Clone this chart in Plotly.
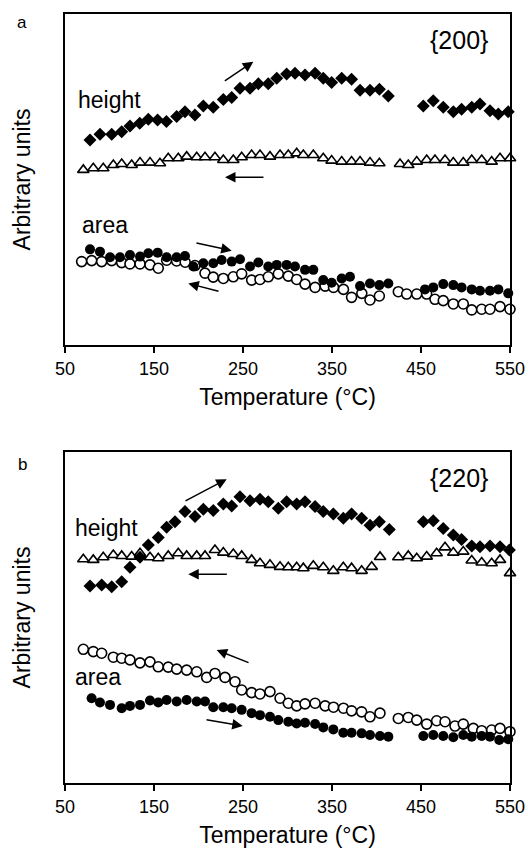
import plotly.graph_objects as go

# ---------- Panel a {200} ----------
a_h_heat_T = [78.1, 89.3, 102.5, 113.7, 123, 134, 143.6, 154, 164, 175.5, 184.8, 196, 205.4, 216.6, 227.9, 237.3,
              246.6, 257.9, 267.2, 278.4, 287.9, 299, 308.4, 319.7, 331, 340.2, 349.6, 360.9, 372, 381.5, 392.7,
              403.2, 413.3, 452.6, 463.8, 475, 486.3, 495.6, 507, 516.3, 527.5, 536.9, 548]
a_h_heat_v = [61.9, 63.7, 63.7, 64.4, 66.2, 67.0, 68.2, 68.0, 67.5, 69.0, 70.5, 69.5, 72.2, 71.8, 74.2, 74.8,
              77.6, 77.6, 78.9, 78.9, 80.6, 81.9, 82.1, 81.6, 82.1, 80.6, 79.3, 80.6, 80.3, 77.0, 77.0,
              77.3, 75.2, 72.2, 73.8, 71.8, 70.5, 71.2, 71.8, 72.8, 70.8, 69.8, 70.5]

a_h_cool_T = [70.6, 81.8, 93, 104.3, 113.7, 124.9, 134.3, 145.5, 156.7, 166, 177.3, 186.7, 198, 207.3, 218.5, 227.9,
              239.1, 248.5, 259.7, 269.1, 280.3, 291.6, 300.9, 310.3, 317.8, 329, 340.2, 349.6, 360.9, 372, 381.5,
              392.7, 403.2, 426.4, 435.7, 445.2, 456.4, 465.7, 477, 486.3, 497.5, 507, 518.2, 529.4, 538.8, 550]
a_h_cool_v = [52.9, 53.4, 53.4, 54.4, 54.7, 54.4, 55.1, 55.1, 54.9, 56.4, 56.4, 56.9, 56.7, 56.7, 56.7, 55.9,
              55.9, 56.7, 57.4, 57.4, 56.9, 57.4, 57.4, 57.9, 57.4, 57.4, 56.4, 55.7, 55.4, 55.4, 55.4,
              55.1, 54.9, 54.7, 54.4, 55.4, 55.9, 55.9, 55.9, 55.1, 55.1, 55.9, 55.9, 55.4, 56.4, 56.4]

a_a_heat_T = [78.1, 89.3, 100.6, 111.8, 123, 134.3, 143.6, 154.1, 164.2, 175.4, 184.8, 194.2, 205.4, 216.6, 226,
              237.3, 246.6, 257.9, 267.2, 278.4, 287.9, 299, 308.4, 319.7, 329, 340.2, 349.6, 360.9, 370.2, 381.5,
              392.7, 403.2, 413.3, 454.5, 463.8, 475, 486.3, 495.6, 507, 516.3, 527.5, 536.9, 548]
a_a_heat_v = [28.9, 28.2, 26.5, 26.5, 27.2, 26.7, 27.7, 27.9, 26.5, 26.5, 26.9, 23.7, 24.7, 24.7, 25.7,
              25.2, 25.9, 23.7, 24.9, 23.7, 24.2, 24.2, 23.7, 22.7, 22.7, 19.6, 18.8, 20.1, 20.6, 17.8,
              18.6, 18.1, 18.6, 16.8, 17.4, 18.4, 18.1, 17.4, 16.8, 16.4, 16.4, 16.8, 15.6]

a_a_cool_T = [68.7, 80, 91.2, 102.5, 113.7, 123, 134.3, 145.5, 154.8, 164.2, 175.4, 185, 196, 207.3, 216.6, 227.9,
              239.1, 248.5, 259.7, 269.1, 278.4, 289.7, 300.9, 310.3, 319.7, 331, 342.3, 351.7, 362.9, 372, 383.5,
              392.7, 403.2, 424.5, 433.9, 445.2, 456.4, 465.7, 475, 486.3, 497.5, 507, 518.2, 527.5, 538.8, 550]
a_a_cool_v = [25.2, 25.5, 25.2, 25.5, 24.9, 24.5, 24.5, 24.2, 23.2, 25.6, 25.4, 25.0, 24.0, 21.7, 20.5, 20.1,
              20.6, 21.5, 19.6, 19.8, 20.6, 21.5, 20.8, 19.8, 18.4, 17.4, 17.8, 17.4, 16.8, 14.4, 15.6,
              13.6, 14.8, 16.1, 15.4, 15.4, 15.4, 13.8, 13.4, 12.4, 12.4, 10.6, 10.8, 10.8, 11.6, 10.8]

# ---------- Panel b {220} ----------
b_h_heat_T = [78.1, 91.2, 102.5, 113.7, 123, 134.3, 143.6, 154.8, 164.2, 173.6, 184.8, 196.1, 205.4, 216.6, 227.9,
              237.3, 246.6, 257.9, 269.1, 278.4, 289.7, 299, 310.3, 319.7, 331, 340.2, 351.5, 362.7, 372, 383.3,
              392.7, 403.2, 414.4, 452.6, 463.8, 475, 486.3, 495.6, 507, 516.3, 527.5, 538.8, 549.3]
b_h_heat_v = [59.5, 59.8, 59.3, 60.8, 65.2, 68.2, 71.9, 74.2, 77.3, 78.9, 82.0, 80.5, 82.7, 82.3, 84.3,
              83.7, 86.5, 85.3, 85.7, 85.0, 83.0, 85.0, 84.3, 85.0, 83.5, 82.0, 81.3, 80.0, 81.3, 80.0,
              77.9, 78.9, 76.6, 78.9, 79.2, 76.9, 74.9, 73.6, 71.6, 71.4, 71.6, 71.4, 70.4]

b_h_cool_T = [70.6, 81.8, 93, 104.3, 113.7, 124.9, 134.3, 145.5, 154.8, 166, 177.3, 186.7, 198, 207.3, 218.5, 227.9,
              239.1, 248.5, 259.7, 269.1, 280.3, 291.6, 300.9, 310.3, 317.8, 329, 340.2, 351.5, 362.7, 372, 383.3,
              394.6, 404, 424.5, 435.7, 445.2, 456.4, 467.6, 477, 486.3, 497.5, 507, 518.2, 529.4, 538.8, 550]
b_h_cool_v = [67.6, 67.4, 68.2, 68.9, 68.6, 68.4, 69.4, 68.2, 67.9, 68.6, 69.4, 68.6, 68.6, 68.6, 70.4, 69.6,
              69.2, 68.6, 67.4, 66.4, 65.9, 65.3, 65.2, 65.2, 64.9, 65.6, 65.2, 64.1, 65.2, 64.9, 64.1,
              65.3, 68.3, 68.2, 68.6, 67.9, 68.4, 69.4, 71.2, 69.6, 69.9, 67.2, 66.6, 66.4, 67.4, 63.4]

b_a_heat_T = [79.9, 89.3, 100.6, 113.7, 123, 134.3, 145.5, 154.8, 164.2, 175.5, 186.7, 198, 207.3, 216.6, 227.9,
              237.3, 248.5, 259.7, 269.1, 280.3, 289.7, 300.9, 310.3, 319.7, 331, 340.2, 351.5, 362.7, 372, 383.3,
              392.7, 403.9, 413.3, 452.6, 463.8, 475, 486.3, 497.5, 507, 518.2, 527.5, 537.9, 548]
b_a_heat_v = [25.6, 24.3, 23.6, 22.6, 23.3, 23.6, 24.9, 24.3, 25.1, 24.6, 25.1, 24.6, 24.6, 22.9, 22.9,
              22.6, 22.1, 21.1, 20.5, 20.0, 19.0, 18.5, 18.0, 18.2, 17.8, 16.8, 16.2, 15.2, 15.2, 15.0,
              14.5, 14.2, 14.0, 14.2, 14.5, 14.2, 13.8, 14.5, 14.0, 14.2, 14.0, 13.0, 13.2]

b_a_cool_T = [70.6, 81.8, 91.2, 104.3, 113.7, 123, 134.3, 145.5, 154.8, 166, 175.5, 186.7, 198, 209.2, 218.5, 229.8,
              241, 248.5, 259.7, 269.1, 280.3, 291.6, 300.9, 310.3, 319.7, 331, 342.3, 351.7, 362.9, 372, 383.3,
              392.7, 403.9, 424.5, 435.7, 445.2, 456.4, 467.6, 477, 488.2, 497.5, 508.8, 518.2, 529.4, 538.8, 550]
b_a_cool_v = [40.4, 39.7, 39.2, 38.0, 37.7, 37.2, 36.3, 36.6, 35.1, 35.0, 34.4, 34.1, 33.6, 31.9, 33.1, 31.9,
              30.6, 28.1, 27.3, 26.9, 27.6, 25.6, 24.1, 23.3, 23.9, 24.1, 23.3, 22.9, 22.6, 21.8, 21.5,
              20.0, 21.1, 19.5, 19.8, 19.0, 17.8, 18.8, 18.5, 17.2, 17.8, 16.5, 15.8, 16.0, 16.5, 15.5]

x_ticks = [50, 150, 250, 350, 450, 550]

FONT = "Liberation Sans, Arial, sans-serif"
fig = go.Figure()


def add_series(T, v, symbol, filled, size, xa, ya):
    fig.add_trace(go.Scatter(
        x=T, y=v, mode="markers", xaxis=xa, yaxis=ya, showlegend=False, cliponaxis=False,
        hoverinfo="skip",
        marker=dict(symbol=symbol, size=size,
                    color="black" if filled else "white",
                    line=dict(color="black", width=0 if filled else 1.6))))


# panel a
add_series(a_h_cool_T, a_h_cool_v, "triangle-up", False, 10, "x", "y")
add_series(a_h_heat_T, a_h_heat_v, "diamond", True, 10, "x", "y")
add_series(a_a_cool_T, a_a_cool_v, "circle", False, 10, "x", "y")
add_series(a_a_heat_T, a_a_heat_v, "circle", True, 10, "x", "y")
# panel b
add_series(b_h_cool_T, b_h_cool_v, "triangle-up", False, 10, "x2", "y2")
add_series(b_h_heat_T, b_h_heat_v, "diamond", True, 10, "x2", "y2")
add_series(b_a_cool_T, b_a_cool_v, "circle", False, 10, "x2", "y2")
add_series(b_a_heat_T, b_a_heat_v, "circle", True, 10, "x2", "y2")

# arrows: (x_tail, y_tail, x_head, y_head, axis suffix)
arrows = [
    (227.9, 79.5, 261.6, 85.6, ""),
    (274.7, 50.7, 229.8, 50.7, ""),
    (196.0, 30.9, 237.3, 28.5, ""),
    (224.2, 16.1, 188.5, 18.6, ""),
    (183.7, 85.0, 231.7, 91.8, "2"),
    (233.5, 63.1, 188.5, 63.1, "2"),
    (257.9, 36.2, 220.4, 40.2, "2"),
    (207.3, 19.2, 249.7, 17.2, "2"),
]
annotations = []
for xt, yt, xh, yh, s in arrows:
    annotations.append(dict(x=xh, y=yh, ax=xt, ay=yt, xref="x" + s, yref="y" + s,
                            axref="x" + s, ayref="y" + s, text="", showarrow=True,
                            arrowhead=2, arrowsize=1.4, arrowwidth=1.5, arrowcolor="black"))

# body margin is removed by a post script, so figure pixels equal page pixels
W = 528
H = 858

texts = [
    ("height", 76, 100, "left", 23),
    ("area", 80, 225, "left", 23),
    ("{200}", 459, 40, "center", 25),
    ("a", 22, 22, "center", 17),
    ("height", 73, 528, "left", 23),
    ("area", 73, 677, "left", 23),
    ("{220}", 459, 478, "center", 25),
    ("b", 22, 464, "center", 17),
]
for t, px, py, anc, fs in texts:
    annotations.append(dict(text=t, x=px / W, y=1 - py / H, xref="paper", yref="paper",
                            xanchor=anc, yanchor="middle", showarrow=False,
                            font=dict(family=FONT, size=fs, color="black")))

xdom = [65 / W, 510 / W]
ydom_a = [1 - 345 / H, 1 - 14 / H]
ydom_b = [1 - 783 / H, 1 - 452 / H]

xcommon = dict(range=[50, 550], tickvals=x_ticks, ticktext=[str(t) for t in x_ticks],
               showline=True, mirror=True, linecolor="black", linewidth=2,
               ticks="outside", ticklen=6, tickwidth=2, tickcolor="black",
               showgrid=False, zeroline=False, automargin=False,
               tickfont=dict(family=FONT, size=18, color="black"),
               title=dict(text="Temperature (°C)", font=dict(family=FONT, size=23, color="black"),
                          standoff=11))
ycommon = dict(range=[0, 100], showline=True, mirror=True, linecolor="black", linewidth=2,
               ticks="", showticklabels=False, showgrid=False, zeroline=False, automargin=False,
               title=dict(text="Arbitrary units", font=dict(family=FONT, size=23, color="black"),
                          standoff=26))

fig.update_layout(
    width=W, height=H,
    margin=dict(l=0, r=0, t=0, b=0),
    paper_bgcolor="white", plot_bgcolor="white",
    hovermode=False,
    xaxis=dict(domain=xdom, anchor="y", **xcommon),
    yaxis=dict(domain=ydom_a, anchor="x", **ycommon),
    xaxis2=dict(domain=xdom, anchor="y2", **xcommon),
    yaxis2=dict(domain=ydom_b, anchor="x2", **ycommon),
    annotations=annotations,
)

fig.write_html("out.html", config={"displayModeBar": False},
               post_script="document.body.style.margin='0';document.body.style.overflow='hidden';")
